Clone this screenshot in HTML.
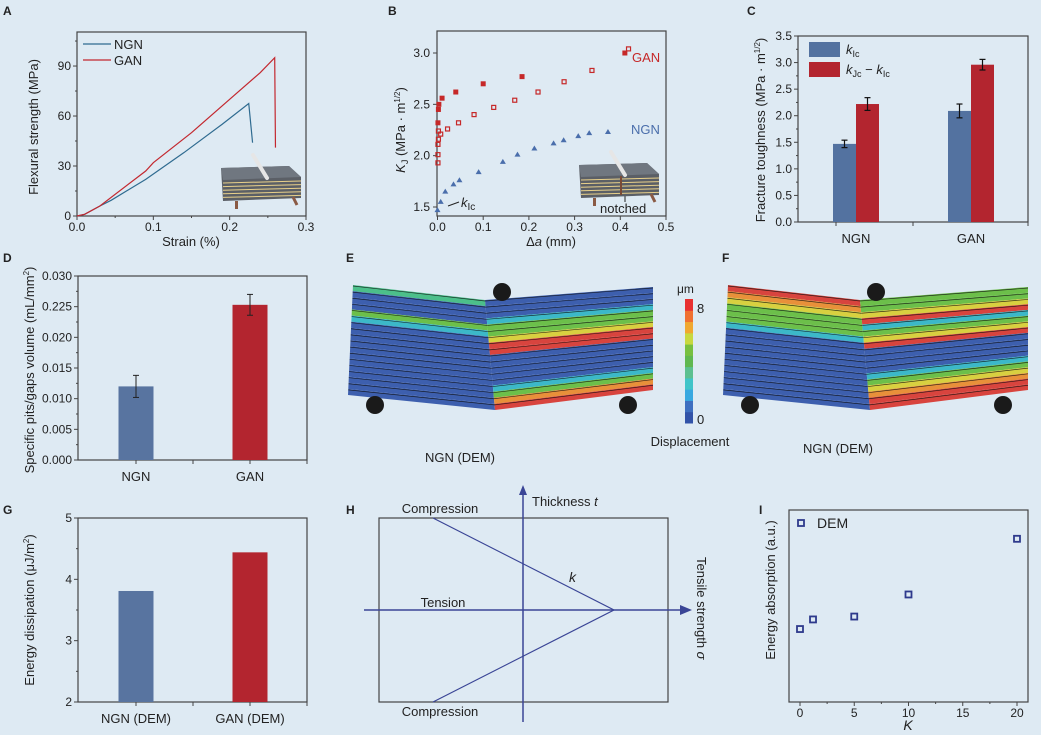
<!DOCTYPE html>
<html><head><meta charset="utf-8">
<style>
html,body{margin:0;padding:0;background:#deeaf3;}
svg{display:block;font-family:"Liberation Sans",sans-serif;}
text{fill:#222;}
</style></head>
<body>
<svg id="fig" width="1041" height="735" viewBox="0 0 1041 735">
<rect width="1041" height="735" fill="#deeaf3"/>
</svg>
<script>
// ---- data ----
const aNgnStrain=[0,0.01,0.03,0.045,0.09,0.14,0.19,0.225,0.23];
const aNgnStress=[0,1,6,9.5,22,38,55,67.5,44];
const aGanStrain=[0,0.01,0.03,0.09,0.1,0.15,0.2,0.24,0.259,0.26];
const aGanStress=[0,1,6,27,32,50,70,86,95,41];
const aXTicks=["0.0","0.1","0.2","0.3"];
const aYTicks=["0","30","60","90"];

const bGanFilledX=[0.001,0.002,0.003,0.01,0.04,0.10,0.185,0.41];
const bGanFilledY=[2.32,2.45,2.50,2.56,2.62,2.70,2.77,3.0];
const bGanOpenX=[0.001,0.001,0.001,0.002,0.002,0.007,0.022,0.046,0.08,0.123,0.169,0.22,0.277,0.338,0.418];
const bGanOpenY=[1.93,2.01,2.11,2.16,2.24,2.21,2.26,2.32,2.40,2.47,2.54,2.62,2.72,2.83,3.04];
const bNgnX=[0,0.007,0.017,0.035,0.048,0.09,0.143,0.175,0.212,0.254,0.276,0.308,0.332,0.373];
const bNgnY=[1.47,1.55,1.65,1.72,1.76,1.84,1.94,2.01,2.07,2.12,2.15,2.19,2.22,2.23];
const bXTicks=["0.0","0.1","0.2","0.3","0.4","0.5"];
const bYTicks=["1.5","2.0","2.5","3.0"];

const cGroups=["NGN","GAN"];
const cKic=[1.47,2.09];
const cKicErr=[0.07,0.13];
const cKjc=[2.22,2.96];
const cKjcErr=[0.12,0.10];
const cYTicks=["0.0","0.5","1.0","1.5","2.0","2.5","3.0","3.5"];

const dGroups=["NGN","GAN"];
const dValues=[0.0120,0.0253];
const dErr=[0.0018,0.0017];
const dYTicks=["0.000","0.005","0.010","0.015","0.020","0.225","0.030"];

const gGroups=["NGN (DEM)","GAN (DEM)"];
const gValues=[3.81,4.44];
const gYTicks=["2","3","4","5"];

const iK=[0,1.2,5,10,20];
const iEnergy=[0.38,0.43,0.445,0.56,0.85];
const iXTicks=["0","5","10","15","20"];

// ---- helpers ----
const svg=document.getElementById('fig');
const NS='http://www.w3.org/2000/svg';
const TK=12, TT=13;
function el(tag,attrs,parent){const e=document.createElementNS(NS,tag);for(const k in attrs)e.setAttribute(k,attrs[k]);(parent||svg).appendChild(e);return e;}
function txt(s,x,y,attrs,parent){const t=el('text',Object.assign({x:x,y:y,'font-size':12},attrs||{}),parent);t.textContent=s;return t;}
function lin(d0,d1,r0,r1){return v=>r0+(v-d0)*(r1-r0)/(d1-d0);}
function box(g,x0,y0,x1,y1){el('rect',{x:x0,y:y0,width:x1-x0,height:y1-y0,fill:'none',stroke:'#444','stroke-width':1.2},g);}
function grp(name){const g=el('g',{});return g;}
function panelLabel(s,x,y){const t=txt(s,x,y,{'font-size':12,'font-weight':'bold'});}

// ============ A ============
(function(){
const g=grp('panel-a-chart');
const x=lin(0,0.3,77,306), y=lin(0,110,216,32.7);
box(g,77,32,306,216);
aXTicks.forEach((t,i)=>{const v=+t;el('line',{x1:x(v),x2:x(v),y1:216,y2:220,stroke:'#444'},g);txt(t,x(v),231,{'text-anchor':'middle','font-size':TK},g);});
for(let v=0.05;v<0.3;v+=0.1)el('line',{x1:x(v),x2:x(v),y1:216,y2:218,stroke:'#444'},g);
aYTicks.forEach(t=>{const v=+t;el('line',{x1:73,x2:77,y1:y(v),y2:y(v),stroke:'#444'},g);txt(t,71,y(v)+4,{'text-anchor':'end','font-size':TK},g);});
for(let v=15;v<110;v+=30)el('line',{x1:75,x2:77,y1:y(v),y2:y(v),stroke:'#444'},g);
const t1=txt('Strain (%)',191,246,{'text-anchor':'middle','font-size':TT},g);
const t2=txt('Flexural strength (MPa)',0,0,{'text-anchor':'middle','font-size':TT,transform:'translate(38,127) rotate(-90)'},g);
const p1=el('polyline',{points:aNgnStrain.map((s,i)=>x(s)+','+y(aNgnStress[i])).join(' '),fill:'none',stroke:'#2f6b90','stroke-width':1.2},g);

const p2=el('polyline',{points:aGanStrain.map((s,i)=>x(s)+','+y(aGanStress[i])).join(' '),fill:'none',stroke:'#c3282f','stroke-width':1.2},g);

el('line',{x1:83,x2:111,y1:44,y2:44,stroke:'#2f6b90','stroke-width':1.2},g);txt('NGN',114,49,{'font-size':TT},g);
el('line',{x1:83,x2:111,y1:60,y2:60,stroke:'#c3282f','stroke-width':1.2},g);txt('GAN',114,65,{'font-size':TT},g);
})();
panelLabel('A',3,15);

// inset specimen drawing
function specimen(ox,oy,notch){
 const g=grp('specimen-inset');
 el('polygon',{points:`${ox},${oy+15} ${ox+68},${oy+13} ${ox+80},${oy+24} ${ox+80},${oy+45} ${ox+2},${oy+48}`,fill:'#5b5f66'},g);
 el('polygon',{points:`${ox},${oy+15} ${ox+68},${oy+13} ${ox+80},${oy+24} ${ox+2},${oy+27}`,fill:'#707780'},g);
 for(let i=0;i<5;i++)el('line',{x1:ox+2,y1:oy+30+i*3.6,x2:ox+80,y2:oy+28+i*3.6,stroke:'#e8d08a','stroke-width':1},g);
 el('rect',{x:ox+14,y:oy+48,width:3,height:8,fill:'#8a5a44'},g);
 el('line',{x1:ox+72,y1:oy+44,x2:ox+76,y2:oy+52,stroke:'#8a5a44','stroke-width':3},g);
 el('line',{x1:ox+32,y1:oy+2,x2:ox+46,y2:oy+25,stroke:'#e6e6e6','stroke-width':4,'stroke-linecap':'round'},g);
 if(notch){el('line',{x1:ox+42,y1:oy+26,x2:ox+42,y2:oy+45,stroke:'#7a4a35','stroke-width':2},g);}
}
specimen(221,153,false);

// ============ B ============
(function(){
const g=grp('panel-b-chart');
const x=lin(0,0.5,437.5,666), y=lin(1.5,3.0,207,53);
box(g,437,31,666,216);
bXTicks.forEach(t=>{const v=+t;el('line',{x1:x(v),x2:x(v),y1:216,y2:220,stroke:'#444'},g);txt(t,x(v),231,{'text-anchor':'middle','font-size':TK},g);});
bYTicks.forEach(t=>{const v=+t;el('line',{x1:433,x2:437,y1:y(v),y2:y(v),stroke:'#444'},g);txt(t,430,y(v)+4,{'text-anchor':'end','font-size':TK},g);});
const xt=txt('',551,246,{'text-anchor':'middle','font-size':TT},g);xt.innerHTML='Δ<tspan font-style="italic">a</tspan>  (mm)';
const yt=txt('',0,0,{'text-anchor':'middle','font-size':TT,transform:'translate(405,130) rotate(-90)'},g);yt.innerHTML='<tspan font-style="italic">K</tspan><tspan font-size="9" dy="3">J</tspan><tspan dy="-3"> (MPa · m</tspan><tspan font-size="8" dy="-5">1/2</tspan><tspan dy="5">)</tspan>';

bGanFilledX.forEach((v,i)=>{const r=el('rect',{x:x(v)-2.5,y:y(bGanFilledY[i])-2.5,width:5,height:5,fill:'#c62828'},g);});
bGanOpenX.forEach((v,i)=>{const r=el('rect',{x:x(v)-2,y:y(bGanOpenY[i])-2,width:4,height:4,fill:'none',stroke:'#c62828','stroke-width':1.2},g);});
bNgnX.forEach((v,i)=>{const cx=x(v),cy=y(bNgnY[i]);const p=el('polygon',{points:`${cx},${cy-3} ${cx-3},${cy+2} ${cx+3},${cy+2}`,fill:'#4a6eab'},g);});
txt('GAN',632,62,{'font-size':TT,style:'fill:#c62828'},g);
txt('NGN',631,134,{'font-size':TT,style:'fill:#4a6eab'},g);
el('line',{x1:459,y1:202,x2:448,y2:206,stroke:'#222'},g);
const k=txt('',461,207,{'font-size':TT},g);k.innerHTML='<tspan font-style="italic">k</tspan><tspan font-size="10" dy="3">Ic</tspan>';
txt('notched',600,213,{'font-size':TT},g);
el('line',{x1:625,y1:202,x2:625,y2:191,stroke:'#222'},g);
})();
panelLabel('B',388,15);
specimen(579,150,true);

// ============ C ============
(function(){
const g=grp('panel-c-chart');
const y=lin(0,3.5,222,36), bw=23;
const cx=[856,971];
box(g,798,36,1028,222);
cYTicks.forEach(t=>{const v=+t;el('line',{x1:794,x2:798,y1:y(v),y2:y(v),stroke:'#444'},g);txt(t,792,y(v)+4,{'text-anchor':'end','font-size':TK},g);});
for(let v=0.25;v<3.5;v+=0.5)el('line',{x1:796,x2:798,y1:y(v),y2:y(v),stroke:'#444'},g);
[836,913,1028].forEach(v=>el('line',{x1:v,x2:v,y1:222,y2:226,stroke:'#444'},g));
cGroups.forEach((n,i)=>{
 const b1=el('rect',{x:cx[i]-bw,y:y(cKic[i]),width:bw,height:222-y(cKic[i]),fill:'#5372a0'},g);
 const b2=el('rect',{x:cx[i],y:y(cKjc[i]),width:bw,height:222-y(cKjc[i]),fill:'#b3252f'},g);
 [[cx[i]-bw/2,cKic[i],cKicErr[i]],[cx[i]+bw/2,cKjc[i],cKjcErr[i]]].forEach(([ex,v,e])=>{
  el('line',{x1:ex,x2:ex,y1:y(v+e),y2:y(v-e),stroke:'#111','stroke-width':1.2},g);
  el('line',{x1:ex-3,x2:ex+3,y1:y(v+e),y2:y(v+e),stroke:'#111','stroke-width':1.2},g);
  el('line',{x1:ex-3,x2:ex+3,y1:y(v-e),y2:y(v-e),stroke:'#111','stroke-width':1.2},g);});
 txt(n,cx[i],243,{'text-anchor':'middle','font-size':TT},g);
});
const yt=txt('',0,0,{'text-anchor':'middle','font-size':TT,transform:'translate(765,130) rotate(-90)'},g);yt.innerHTML='Fracture toughness (MPa · m<tspan font-size="8" dy="-5">1/2</tspan><tspan dy="5">)</tspan>';

el('rect',{x:809,y:42,width:31,height:15,fill:'#5372a0'},g);
const l1=txt('',846,54,{'font-size':TT},g);l1.innerHTML='<tspan font-style="italic">k</tspan><tspan font-size="9" dy="3">Ic</tspan>';
el('rect',{x:809,y:62,width:31,height:15,fill:'#b3252f'},g);
const l2=txt('',846,74,{'font-size':TT},g);l2.innerHTML='<tspan font-style="italic">k</tspan><tspan font-size="9" dy="3">Jc</tspan><tspan dy="-3"> − </tspan><tspan font-style="italic">k</tspan><tspan font-size="9" dy="3">Ic</tspan>';
})();
panelLabel('C',747,15);

// ============ D ============
(function(){
const g=grp('panel-d-chart');
const y=lin(0,0.030,460,276), cx=[136,250], bw=35;
box(g,78,276,307,460);
dYTicks.forEach((t,i)=>{const v=i*0.005;el('line',{x1:74,x2:78,y1:y(v),y2:y(v),stroke:'#444'},g);txt(t,72,y(v)+4,{'text-anchor':'end','font-size':TK},g);});
for(let v=0.0025;v<0.03;v+=0.005)el('line',{x1:76,x2:78,y1:y(v),y2:y(v),stroke:'#444'},g);
[136,193,250,307].forEach(v=>el('line',{x1:v,x2:v,y1:460,y2:464,stroke:'#444'},g));
dGroups.forEach((n,i)=>{
 const b=el('rect',{x:cx[i]-bw/2,y:y(dValues[i]),width:bw,height:460-y(dValues[i]),fill:i?'#b3252f':'#5874a0'},g);
 const v=dValues[i],e=dErr[i];
 el('line',{x1:cx[i],x2:cx[i],y1:y(v+e),y2:y(v-e),stroke:'#222'},g);
 el('line',{x1:cx[i]-3,x2:cx[i]+3,y1:y(v+e),y2:y(v+e),stroke:'#222'},g);
 el('line',{x1:cx[i]-3,x2:cx[i]+3,y1:y(v-e),y2:y(v-e),stroke:'#222'},g);
 txt(n,cx[i],481,{'text-anchor':'middle','font-size':TT},g);
});
const yt=txt('',0,0,{'text-anchor':'middle','font-size':TT,transform:'translate(34,370) rotate(-90)'},g);yt.innerHTML='Specific pits/gaps volume (mL/mm<tspan font-size="8" dy="-5">2</tspan><tspan dy="5">)</tspan>';

})();
panelLabel('D',3,262);

// ============ E / F DEM images ============
const C={b:'#3d5fae',t:'#3cb8c8',g:'#6cbf4a',y:'#d8d040',o:'#e8903a',r:'#d8443e',gt:'#4cbf8a'};
function block(g,tl,tr,bl,br,bands){
 const n=bands.length;
 const P=(a,b,t)=>[a[0]+(b[0]-a[0])*t,a[1]+(b[1]-a[1])*t];
 for(let i=0;i<n;i++){
  const a=P(tl,bl,i/n),b=P(tr,br,i/n),c=P(tr,br,(i+1)/n),d=P(tl,bl,(i+1)/n);
  el('polygon',{points:[a,b,c,d].map(p=>p.join(',')).join(' '),fill:C[bands[i]]},g);
  el('line',{x1:a[0],y1:a[1]+1,x2:b[0],y2:b[1]+1,stroke:'#111','stroke-width':0.7,opacity:0.8},g);
 }
}
function dem(name,ox,top,leftBands,rightBands){
 const g=grp(name);
 block(g,[ox+8,285],[ox+140,300],[ox+3,395],[ox+150,410],leftBands);
 block(g,[ox+140,300],[ox+308,287],[ox+150,410],[ox+308,390],rightBands);
 el('circle',{cx:ox+top,cy:292,r:9,fill:'#1a1a1a'},g);
 el('circle',{cx:ox+30,cy:405,r:9,fill:'#1a1a1a'},g);
 el('circle',{cx:ox+283,cy:405,r:9,fill:'#1a1a1a'},g);
}
dem('panel-e-dem-image',345,157,
 ['gt','b','b','b','g','t','b','b','b','b','b','b','b','b','b','b','b','b'],
 ['b','b','b','t','g','g','y','r','r','b','b','b','b','b','t','g','o','r']);
dem('panel-f-dem-image',720,156,
 ['r','o','y','g','g','g','t','b','b','b','b','b','b','b','b','b','b','b'],
 ['g','g','y','r','t','g','y','r','b','b','b','b','t','g','y','o','r','r']);
panelLabel('E',346,262);panelLabel('F',722,262);
txt('NGN (DEM)',460,462,{'text-anchor':'middle','font-size':13});
txt('NGN (DEM)',838,453,{'text-anchor':'middle','font-size':13});
(function(){
 const g=grp('displacement-colorbar');
 const cols=['#3253a8','#3e6fc0','#38a8e0','#40c4c8','#5cc090','#60b850','#78c040','#c8d840','#f0a830','#f07030','#e83030'];
 const h=(423-299)/cols.length;
 cols.forEach((c,i)=>el('rect',{x:685,y:423-(i+1)*h,width:8,height:h+0.5,fill:c},g));
 txt('μm',677,293,{'font-size':12},g);txt('8',697,313,{'font-size':13},g);txt('0',697,424,{'font-size':13},g);
 txt('Displacement',690,446,{'text-anchor':'middle','font-size':13},g);
})();

// ============ G ============
(function(){
const g=grp('panel-g-chart');
const y=lin(2,5,702,518), cx=[136,250], bw=35;
box(g,78,518,307,702);
gYTicks.forEach(t=>{const v=+t;el('line',{x1:74,x2:78,y1:y(v),y2:y(v),stroke:'#444'},g);txt(t,72,y(v)+4,{'text-anchor':'end','font-size':TK},g);});
for(let v=2.5;v<5;v+=1)el('line',{x1:76,x2:78,y1:y(v),y2:y(v),stroke:'#444'},g);
[136,193,250,307].forEach(v=>el('line',{x1:v,x2:v,y1:702,y2:706,stroke:'#444'},g));
gGroups.forEach((n,i)=>{
 const b=el('rect',{x:cx[i]-bw/2,y:y(gValues[i]),width:bw,height:702-y(gValues[i]),fill:i?'#b3252f':'#5874a0'},g);
 txt(n,cx[i],723,{'text-anchor':'middle','font-size':TT},g);
});
const yt=txt('',0,0,{'text-anchor':'middle','font-size':TT,transform:'translate(34,610) rotate(-90)'},g);yt.innerHTML='Energy dissipation (μJ/m<tspan font-size="8" dy="-5">2</tspan><tspan dy="5">)</tspan>';

})();
panelLabel('G',3,514);

// ============ H ============
(function(){
const g=grp('panel-h-diagram');
box(g,379,518,668,702);
const col='#3a4596';
el('line',{x1:523,y1:722,x2:523,y2:492,stroke:col,'stroke-width':1.5},g);
el('polygon',{points:'523,485 519,495 527,495',fill:col},g);
el('line',{x1:364,y1:610,x2:682,y2:610,stroke:col,'stroke-width':1.5},g);
el('polygon',{points:'692,610 680,605 680,615',fill:col},g);
el('polyline',{points:'433,518 614,610 433,702',fill:'none',stroke:col,'stroke-width':1.2},g);
txt('Compression',440,513,{'text-anchor':'middle','font-size':TT},g);
txt('Compression',440,716,{'text-anchor':'middle','font-size':TT},g);
txt('Tension',443,607,{'text-anchor':'middle','font-size':TT},g);
const t=txt('',532,506,{'font-size':TT},g);t.innerHTML='Thickness  <tspan font-style="italic">t</tspan>';
txt('k',569,582,{'font-size':14,'font-style':'italic'},g);
const r=txt('',0,0,{'font-size':TT,transform:'translate(697,557) rotate(90)'},g);r.innerHTML='Tensile strength <tspan font-style="italic">σ</tspan>';
})();
panelLabel('H',346,514);

// ============ I ============
(function(){
const g=grp('panel-i-chart');
const x=lin(0,20,800,1017), y=lin(0,1,702,510);
box(g,789,510,1028,702);
iXTicks.forEach(t=>{const v=+t;el('line',{x1:x(v),x2:x(v),y1:702,y2:706,stroke:'#444'},g);txt(t,x(v),717,{'text-anchor':'middle','font-size':TK},g);});
for(let v=2.5;v<20;v+=5)el('line',{x1:x(v),x2:x(v),y1:702,y2:704,stroke:'#444'},g);
iK.forEach((k,i)=>{const r=el('rect',{x:x(k)-3,y:y(iEnergy[i])-3,width:6,height:6,fill:'none',stroke:'#2e3a8c','stroke-width':1.8},g);});
el('rect',{x:798,y:520,width:6,height:6,fill:'none',stroke:'#2e3a8c','stroke-width':1.8},g);
txt('DEM',817,528,{'font-size':14},g);
txt('K',908,730,{'text-anchor':'middle','font-size':14,'font-style':'italic'},g);
const yt=txt('Energy absorption  (a.u.)',0,0,{'text-anchor':'middle','font-size':TT,transform:'translate(775,590) rotate(-90)'},g);

})();
panelLabel('I',759,514);
</script>
</body></html>
